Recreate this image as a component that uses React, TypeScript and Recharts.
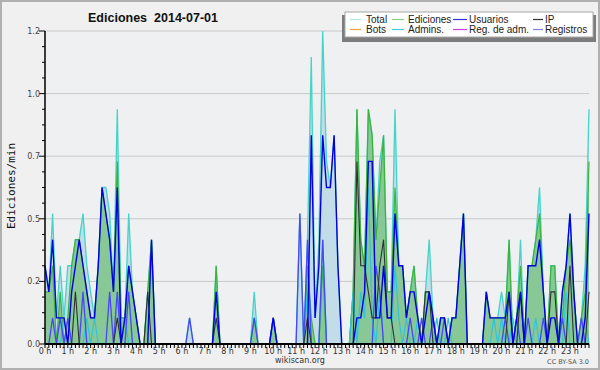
import { ComposedChart, Area, Line, XAxis, YAxis, CartesianGrid } from 'recharts'

// 10-minute buckets, 6 per hour, 144 points, edits per minute
const total = [
  0.3, 0.2, 0.5, 0.1, 0.3, 0.1,
  0.3, 0.3, 0.4, 0.4, 0.5, 0.3,
  0.2, 0.1, 0.3, 0.6, 0.6, 0.5,
  0.2, 0.9, 0.1, 0.1, 0.5, 0.2,
  0.1, 0, 0, 0.2, 0.4, 0,
  0, 0, 0, 0, 0, 0,
  0, 0, 0.1, 0, 0, 0,
  0, 0, 0, 0.3, 0, 0,
  0, 0, 0, 0, 0, 0,
  0, 0.2, 0, 0, 0, 0,
  0.1, 0, 0, 0, 0, 0,
  0, 0.5, 0, 0.4, 1.1, 0.1,
  0.4, 1.2, 0.7, 0.6, 0.8, 0.3,
  0, 0, 0, 0.2, 0.9, 0.4,
  0.3, 0.9, 0.8, 0.4, 0.7, 0.8,
  0.2, 0.2, 0.9, 0.3, 0.3, 0.1,
  0.2, 0.3, 0.1, 0, 0.2, 0.4,
  0.1, 0, 0.1, 0.1, 0, 0.1,
  0.1, 0.3, 0.5, 0, 0, 0,
  0, 0, 0.2, 0.1, 0.1, 0.1,
  0.2, 0.1, 0.4, 0, 0.1, 0.4,
  0, 0.3, 0.3, 0.4, 0.6, 0.2,
  0, 0.3, 0.3, 0, 0.2, 0.3,
  0.5, 0.2, 0, 0.1, 0.3, 0.9,
]

const ediciones = [
  0.2, 0.2, 0.3, 0, 0.2, 0,
  0.1, 0.3, 0.4, 0.4, 0.3, 0.2,
  0.1, 0.1, 0.3, 0.6, 0.5, 0.4,
  0.2, 0.7, 0.1, 0.1, 0.3, 0.2,
  0.1, 0, 0, 0.2, 0.4, 0,
  0, 0, 0, 0, 0, 0,
  0, 0, 0, 0, 0, 0,
  0, 0, 0, 0.3, 0, 0,
  0, 0, 0, 0, 0, 0,
  0, 0.1, 0, 0, 0, 0,
  0.1, 0, 0, 0, 0, 0,
  0, 0, 0, 0.3, 0.1, 0,
  0, 0.3, 0, 0, 0, 0,
  0, 0, 0, 0.2, 0.9, 0.4,
  0.3, 0.9, 0.8, 0.4, 0.6, 0.8,
  0.2, 0.2, 0.6, 0.3, 0.3, 0.1,
  0.2, 0.3, 0.1, 0, 0.2, 0.2,
  0.1, 0, 0.1, 0.1, 0, 0.1,
  0.1, 0.3, 0.5, 0, 0, 0,
  0, 0, 0.2, 0.1, 0.1, 0.1,
  0.1, 0.1, 0.4, 0, 0.1, 0.3,
  0, 0.3, 0.3, 0.4, 0.5, 0.2,
  0, 0.3, 0.3, 0, 0.1, 0.3,
  0.4, 0.2, 0, 0.1, 0.2, 0.7,
]

const usuarios = [
  0.3, 0.2, 0.4, 0.1, 0.1, 0.1,
  0, 0.2, 0.3, 0.4, 0.3, 0.2,
  0.1, 0.1, 0.3, 0.6, 0.5, 0.4,
  0.2, 0.6, 0, 0.1, 0.3, 0.2,
  0.1, 0, 0, 0, 0.4, 0,
  0, 0, 0, 0, 0, 0,
  0, 0, 0, 0, 0, 0,
  0, 0, 0, 0.2, 0, 0,
  0, 0, 0, 0, 0, 0,
  0, 0, 0, 0, 0, 0,
  0.1, 0, 0, 0, 0, 0,
  0, 0, 0, 0, 0.8, 0.1,
  0.3, 0.8, 0.6, 0.6, 0.8, 0.3,
  0, 0, 0, 0, 0.1, 0.1,
  0.2, 0.7, 0.7, 0.1, 0.1, 0.3,
  0.1, 0.1, 0.5, 0.3, 0.3, 0.1,
  0.2, 0.2, 0.1, 0, 0.1, 0.2,
  0.1, 0, 0.1, 0.1, 0, 0.1,
  0.1, 0.3, 0.5, 0, 0, 0,
  0, 0, 0.2, 0.1, 0.1, 0.1,
  0.1, 0.1, 0.2, 0, 0.1, 0.2,
  0, 0.3, 0.3, 0.3, 0.4, 0.2,
  0, 0.1, 0.1, 0, 0.2, 0.3,
  0.5, 0.2, 0, 0, 0.1, 0.5,
]

const ip = [
  0, 0, 0, 0, 0, 0,
  0, 0, 0.2, 0, 0, 0,
  0, 0, 0, 0, 0, 0,
  0, 0.1, 0, 0, 0, 0,
  0, 0, 0, 0.2, 0, 0,
  0, 0, 0, 0, 0, 0,
  0, 0, 0, 0, 0, 0,
  0, 0, 0, 0.1, 0, 0,
  0, 0, 0, 0, 0, 0,
  0, 0, 0, 0, 0, 0,
  0, 0, 0, 0, 0, 0,
  0, 0, 0, 0.1, 0, 0,
  0, 0, 0, 0, 0, 0,
  0, 0, 0, 0, 0.7, 0.3,
  0.3, 0.2, 0.1, 0.1, 0.3, 0.4,
  0.1, 0.1, 0, 0, 0, 0,
  0, 0, 0, 0, 0.2, 0.2,
  0, 0, 0, 0, 0, 0,
  0, 0, 0, 0, 0, 0,
  0, 0, 0, 0, 0, 0,
  0, 0, 0.2, 0, 0, 0.2,
  0, 0, 0, 0, 0, 0,
  0, 0.2, 0.2, 0, 0, 0,
  0.3, 0, 0, 0, 0, 0.2,
]

const admins = [
  0, 0, 0, 0, 0, 0.1,
  0, 0, 0, 0, 0, 0.1,
  0, 0.1, 0, 0, 0, 0,
  0, 0, 0, 0.1, 0, 0,
  0, 0, 0, 0, 0, 0,
  0, 0, 0, 0, 0, 0,
  0, 0, 0, 0, 0, 0,
  0, 0, 0, 0, 0, 0,
  0, 0, 0, 0, 0, 0,
  0, 0, 0, 0, 0, 0,
  0, 0, 0, 0, 0, 0,
  0, 0, 0, 0.2, 0, 0,
  0, 0.4, 0, 0, 0, 0,
  0, 0, 0, 0.2, 0, 0.2,
  0.1, 0.6, 0.1, 0, 0.2, 0,
  0, 0, 0.3, 0.1, 0, 0.1,
  0, 0, 0.1, 0, 0, 0,
  0, 0.1, 0, 0, 0.1, 0,
  0, 0, 0, 0, 0, 0,
  0, 0, 0, 0, 0.1, 0,
  0.1, 0, 0, 0.1, 0, 0,
  0, 0, 0, 0.1, 0, 0,
  0, 0, 0, 0, 0, 0.2,
  0, 0, 0, 0, 0.1, 0,
]

const registros = [
  0, 0, 0.1, 0, 0.1, 0,
  0.1, 0, 0, 0, 0.2, 0,
  0, 0, 0, 0, 0, 0.2,
  0, 0.2, 0, 0, 0.2, 0,
  0, 0, 0, 0, 0, 0,
  0, 0, 0, 0, 0, 0,
  0, 0, 0.1, 0, 0, 0,
  0, 0, 0, 0, 0, 0,
  0, 0, 0, 0, 0, 0,
  0, 0.1, 0, 0, 0, 0,
  0.1, 0, 0, 0, 0, 0,
  0, 0.5, 0, 0.4, 0, 0,
  0, 0.4, 0, 0, 0, 0,
  0, 0, 0, 0, 0, 0,
  0, 0, 0, 0.3, 0.2, 0,
  0, 0, 0, 0, 0, 0,
  0.1, 0, 0, 0.1, 0, 0,
  0.1, 0, 0, 0.1, 0, 0,
  0, 0, 0, 0, 0, 0,
  0, 0, 0, 0, 0, 0,
  0, 0.1, 0, 0, 0.1, 0,
  0, 0.1, 0, 0, 0, 0.1,
  0, 0, 0, 0, 0.1, 0,
  0, 0, 0, 0.1, 0, 0,
]

const hourLabels = [
  '0 h', '1 h', '2 h', '3 h', '4 h', '5 h', '6 h', '7 h', '8 h', '9 h', '10 h', '11 h',
  '12 h', '13 h', '14 h', '15 h', '16 h', '17 h', '18 h', '19 h', '20 h', '21 h', '22 h', '23 h',
]

const yMajor = [0, 0.24, 0.48, 0.72, 0.96, 1.2]

const legendItems = [
  { name: 'Total', color: '#b4e8e2' },
  { name: 'Ediciones', color: '#88d088' },
  { name: 'Usuarios', color: '#3434e4' },
  { name: 'IP', color: '#333333' },
  { name: 'Bots', color: '#f0a040' },
  { name: 'Admins.', color: '#44c8e0' },
  { name: 'Reg. de adm.', color: '#d040e0' },
  { name: 'Registros', color: '#8080ee' },
]

const data = total.map((t, i) => ({
  i,
  total: t,
  ediciones: ediciones[i],
  usuarios: usuarios[i],
  ip: ip[i],
  admins: admins[i],
  registros: registros[i],
}))

const xTicks = data.map(d => d.i)
const yTicks: number[] = []
yMajor.forEach((m, k) => {
  yTicks.push(m)
  if (k < yMajor.length - 1) {
    const step = (yMajor[k + 1] - m) / 4
    yTicks.push(m + step, m + 2 * step, m + 3 * step)
  }
})

const tickFont = 'DejaVu Sans, sans-serif'

function XTick(props: any) {
  const { x, y, payload } = props
  const i = payload.value
  return (
    <g>
      <line x1={x} x2={x} y1={y} y2={y + 4} stroke="#000" strokeWidth={1} />
      {i % 6 === 0 && (
        <text x={x} y={y + 10} textAnchor="middle" fontSize={8} fill="#333" fontFamily={tickFont}>
          {hourLabels[i / 6]}
        </text>
      )}
    </g>
  )
}

function YTick(props: any) {
  const { x, y, payload } = props
  const v = payload.value
  const major = yMajor.some(m => Math.abs(m - v) < 1e-6)
  return (
    <g>
      <line x1={x - (major ? 6 : 3)} x2={x} y1={y} y2={y} stroke="#000" strokeWidth={1} />
      {major && (
        <text x={x - 5} y={y + 3} textAnchor="end" fontSize={8} fill="#444" fontFamily={tickFont}>
          {v.toFixed(1)}
        </text>
      )}
    </g>
  )
}

const legendCols = [
  { lx: 350, tx: 366 },
  { lx: 392, tx: 408 },
  { lx: 453, tx: 469 },
  { lx: 533, tx: 545 },
]
const lineLen = [11, 12, 14, 10]

export default function App() {
  return (
    <div style={{ position: 'absolute', left: 0, top: 0, width: 600, height: 370, background: '#f0f0f0' }}>
      <ComposedChart
        width={600}
        height={370}
        data={data}
        margin={{ top: 31, right: 11, bottom: 6, left: 5 }}
      >
        <CartesianGrid
          vertical={false}
          horizontalValues={[0.24, 0.48, 0.72, 0.96, 1.2]}
          stroke="#c8c8c8"
          fill="#eef0f2"
        />
        <XAxis
          type="number"
          dataKey="i"
          domain={[0, 143]}
          ticks={xTicks}
          interval={0}
          tick={<XTick />}
          tickLine={false}
          tickSize={0}
          tickMargin={0}
          height={20}
          axisLine={{ stroke: '#000', strokeWidth: 2 }}
        />
        <YAxis
          type="number"
          domain={[0, 1.2]}
          ticks={yTicks}
          interval={0}
          tick={<YTick />}
          tickLine={false}
          tickSize={0}
          tickMargin={0}
          width={40}
          axisLine={{ stroke: '#000', strokeWidth: 1.5 }}
        />
        <Area
          type="linear"
          dataKey="total"
          stroke="#44d4c8"
          strokeWidth={1.3}
          fill="#c3dde8"
          fillOpacity={1}
          dot={false}
          activeDot={false}
          isAnimationActive={false}
        />
        <Area
          type="linear"
          dataKey="ediciones"
          stroke="#3cb43c"
          strokeWidth={1.2}
          fill="#5cb85c"
          fillOpacity={0.58}
          dot={false}
          activeDot={false}
          isAnimationActive={false}
        />
        <Line type="linear" dataKey="admins" stroke="#30c4dc" strokeWidth={1.2} dot={false} activeDot={false} isAnimationActive={false} />
        <Line type="linear" dataKey="registros" stroke="#4848f4" strokeWidth={1.3} dot={false} activeDot={false} isAnimationActive={false} />
        <Line type="linear" dataKey="ip" stroke="#303030" strokeWidth={1.1} dot={false} activeDot={false} isAnimationActive={false} />
        <Line type="linear" dataKey="usuarios" stroke="#0000e0" strokeWidth={1.4} dot={false} activeDot={false} isAnimationActive={false} />
      </ComposedChart>
      <svg width={600} height={370} style={{ position: 'absolute', left: 0, top: 0, pointerEvents: 'none' }}>
        <rect x={1} y={1} width={598} height={368} fill="none" stroke="#b0b0b0" strokeWidth={2} />
        <text x={153} y={22} textAnchor="middle" fontSize={12.5} fontWeight="bold" fontFamily="Liberation Sans, sans-serif" fill="#111">
          {'Ediciones\u00a0\u00a02014-07-01'}
        </text>
        <text
          x={15}
          y={186}
          transform="rotate(-90, 15, 186)"
          textAnchor="middle"
          fontSize={11}
          fontFamily="DejaVu Sans Mono, monospace"
          fill="#111"
        >
          Ediciones/min
        </text>
        <text x={300} y={363} textAnchor="middle" fontSize={8} fontFamily={tickFont} fill="#333">
          wikiscan.org
        </text>
        <text x={589} y={364} textAnchor="end" fontSize={6.5} fontFamily={tickFont} fill="#555">
          CC BY-SA 3.0
        </text>
        <rect x={342} y={15} width={254} height={27} fill="#7c7c7c" />
        <rect x={345} y={12} width={248} height={25} fill="#ffffff" stroke="#a8a8a8" strokeWidth={1} />
        {legendItems.map((it, k) => {
          const col = legendCols[k % 4]
          const row = Math.floor(k / 4)
          const ly = 19.5 + row * 10
          return (
            <g key={it.name}>
              <line x1={col.lx} x2={col.lx + lineLen[k % 4]} y1={ly} y2={ly} stroke={it.color} strokeWidth={1.2} />
              <text x={col.tx} y={ly + 3.5} fontSize={10} fontFamily="Liberation Sans, sans-serif" fill="#222">
                {it.name}
              </text>
            </g>
          )
        })}
      </svg>
    </div>
  )
}
